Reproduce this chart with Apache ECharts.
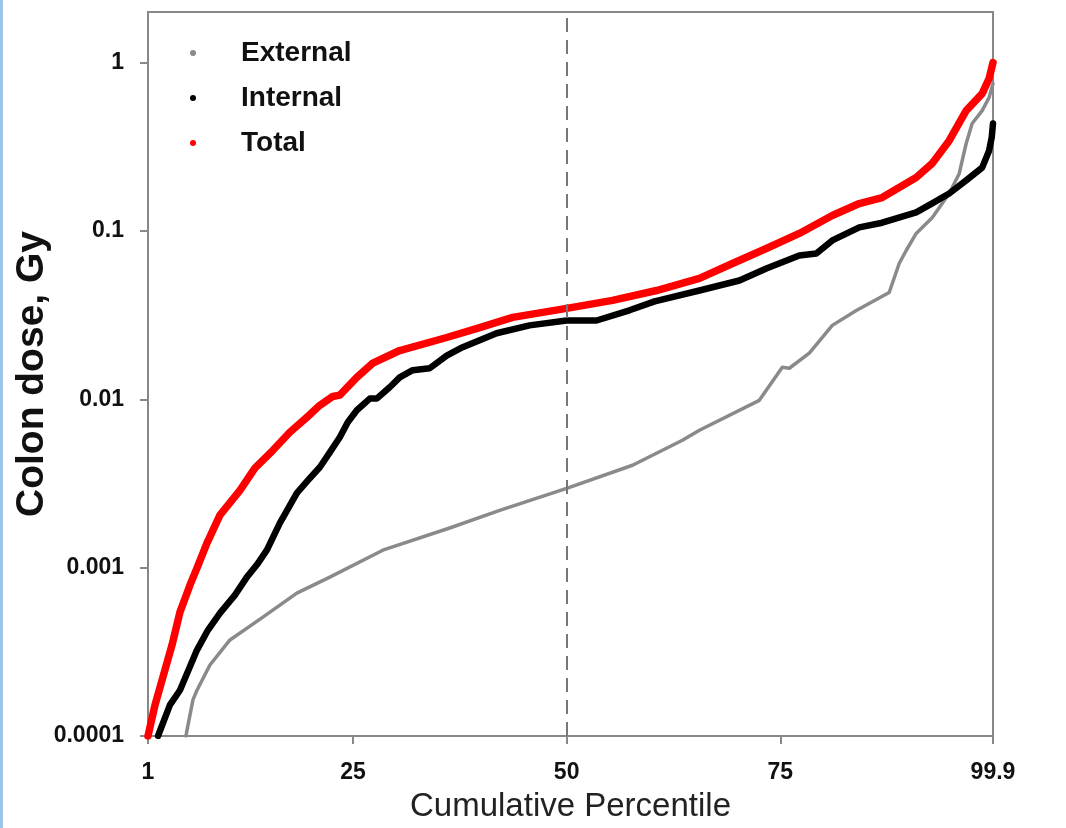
<!DOCTYPE html>
<html>
<head>
<meta charset="utf-8">
<script src="https://cdn.jsdelivr.net/npm/echarts@6/dist/echarts.min.js"></script>
<style>
html,body{margin:0;padding:0;background:#fff;}
#chart{width:1066px;height:828px;}
</style>
</head>
<body>
<div id="chart"></div>
<script>
const xTicks = [1, 25, 50, 75, 99.9];
const yTicks = [0.0001, 0.001, 0.01, 0.1, 1];

const totalX = [1, 1.82, 2.75, 3.81, 4.74, 5.91, 6.73, 7.9, 9.42, 11.76, 13.51, 15.62, 17.6, 19.59, 21.11, 22.63, 23.45, 25.44, 27.31, 30.46, 35.96, 39.82, 43.68, 50, 55.37, 60.51, 65.54, 69.4, 73.37, 77.23, 81.09, 84.25, 86.93, 90.91, 92.78, 94.77, 96.76, 98.63, 99.44, 99.9];
const totalY = [0.0001, 0.000153, 0.000224, 0.000347, 0.000544, 0.000787, 0.000993, 0.0014, 0.00205, 0.00288, 0.0039, 0.00498, 0.00637, 0.00782, 0.00921, 0.0104, 0.0106, 0.0135, 0.0164, 0.0195, 0.0233, 0.0267, 0.0307, 0.0347, 0.0387, 0.0443, 0.0523, 0.0641, 0.0787, 0.0967, 0.1236, 0.1456, 0.158, 0.208, 0.252, 0.344, 0.519, 0.655, 0.804, 1.0];

const internalX = [2.17, 3.57, 4.74, 6.73, 8.02, 9.42, 11.17, 12.57, 13.74, 14.91, 16.43, 18.42, 19.94, 21.11, 22.28, 23.45, 24.38, 25.44, 26.96, 27.77, 29.29, 30.46, 31.98, 33.97, 35.96, 37.83, 41.8, 45.66, 50, 53.5, 57.35, 60.3, 65.54, 70.22, 73.37, 77.23, 79.22, 81.09, 84.25, 86.93, 90.91, 92.78, 94.77, 96.76, 98.63, 99.44, 99.75, 99.9];
const internalY = [0.0001, 0.000153, 0.000187, 0.000324, 0.000426, 0.000537, 0.000687, 0.000879, 0.00104, 0.00127, 0.00184, 0.00277, 0.0034, 0.00395, 0.00484, 0.00595, 0.00731, 0.00861, 0.0101, 0.0101, 0.0118, 0.0135, 0.0149, 0.0153, 0.0182, 0.0204, 0.0247, 0.0275, 0.0294, 0.0294, 0.0338, 0.0382, 0.0443, 0.0508, 0.0599, 0.0716, 0.0735, 0.0879, 0.105, 0.112, 0.129, 0.146, 0.167, 0.2, 0.238, 0.3, 0.36, 0.435];

const externalX = [5.44, 5.68, 6.26, 6.73, 8.25, 10.59, 14.45, 18.42, 22.28, 28.48, 36.31, 42.16, 50, 57.71, 63.55, 65.54, 72.55, 75.24, 76.06, 78.4, 81.09, 83.9, 87.75, 88.92, 89.74, 90.91, 92.78, 94.77, 95.94, 96.76, 97.46, 98.63, 99.44, 99.9];
const externalY = [0.0001, 0.000116, 0.000164, 0.000187, 0.000264, 0.000372, 0.000508, 0.000706, 0.000879, 0.00127, 0.00172, 0.00219, 0.00296, 0.00406, 0.00571, 0.00655, 0.00986, 0.0155, 0.0153, 0.0188, 0.0275, 0.0337, 0.0431, 0.0641, 0.0766, 0.0967, 0.12, 0.167, 0.219, 0.331, 0.435, 0.519, 0.62, 0.75];

const medianLine = 50;

function pairs(xs, ys) { return xs.map((x, i) => [x, ys[i]]); }

const chart = echarts.init(document.getElementById('chart'));
const FONT = 'Liberation Sans, Arial, sans-serif';
chart.setOption({
  animation: false,
  backgroundColor: '#fff',
  graphic: [{
    type: 'rect', left: 0, top: 0, shape: { width: 3, height: 828 },
    style: { fill: '#9cc4e8' }, silent: true
  }],
  grid: {
    left: 148, right: 73, top: 12, bottom: 92,
    outerBoundsMode: 'none', containLabel: false,
    show: true, borderColor: '#888', borderWidth: 2
  },
  legend: {
    orient: 'vertical', left: 185, top: 34,
    itemWidth: 6, itemHeight: 6, itemGap: 17, icon: 'circle',
    textStyle: { fontFamily: FONT, fontWeight: 'bold', fontSize: 28, color: '#111', padding: [0, 0, 0, 40] },
    data: ['External', 'Internal', 'Total']
  },
  xAxis: {
    type: 'value', min: 1, max: 99.9,
    name: 'Cumulative Percentile', nameLocation: 'middle', nameGap: 54,
    nameMoveOverlap: false,
    nameTextStyle: { fontFamily: FONT, fontSize: 33, color: '#222' },
    axisLine: { lineStyle: { color: '#888', width: 2 } },
    axisTick: { show: true, length: 8, customValues: xTicks, lineStyle: { color: '#888', width: 2 } },
    axisLabel: { customValues: xTicks, margin: 25, fontFamily: FONT, fontWeight: 'bold', fontSize: 23, color: '#111' },
    splitLine: { show: false }
  },
  yAxis: {
    type: 'log', logBase: 10, min: 0.0001, max: 2,
    name: 'Colon dose, Gy', nameLocation: 'middle', nameGap: 96,
    nameMoveOverlap: false,
    nameTextStyle: { fontFamily: FONT, fontWeight: 'bold', fontSize: 39, color: '#111' },
    axisLine: { lineStyle: { color: '#888', width: 2 } },
    axisTick: { show: true, length: 8, customValues: yTicks, lineStyle: { color: '#888', width: 2 } },
    axisLabel: { customValues: yTicks, margin: 24, fontFamily: FONT, fontWeight: 'bold', fontSize: 23, color: '#111',
      formatter: v => String(v) },
    splitLine: { show: false }
  },
  series: [
    {
      name: 'External', type: 'line', showSymbol: false, symbol: 'circle',
      data: pairs(externalX, externalY),
      itemStyle: { color: '#8a8a8a' },
      lineStyle: { color: '#8a8a8a', width: 3.5, join: 'round', cap: 'round' },
      z: 2,
      markLine: {
        silent: true, symbol: 'none', label: { show: false },
        lineStyle: { color: '#777', width: 2, type: [14, 8] },
        data: [{ xAxis: medianLine }]
      }
    },
    {
      name: 'Internal', type: 'line', showSymbol: false, symbol: 'circle',
      data: pairs(internalX, internalY),
      itemStyle: { color: '#000' },
      lineStyle: { color: '#000', width: 6.5, join: 'round', cap: 'round' },
      z: 3
    },
    {
      name: 'Total', type: 'line', showSymbol: false, symbol: 'circle',
      data: pairs(totalX, totalY),
      itemStyle: { color: '#ff0000' },
      lineStyle: { color: '#ff0000', width: 7.5, join: 'round', cap: 'round' },
      z: 4
    }
  ]
});
</script>
</body>
</html>
